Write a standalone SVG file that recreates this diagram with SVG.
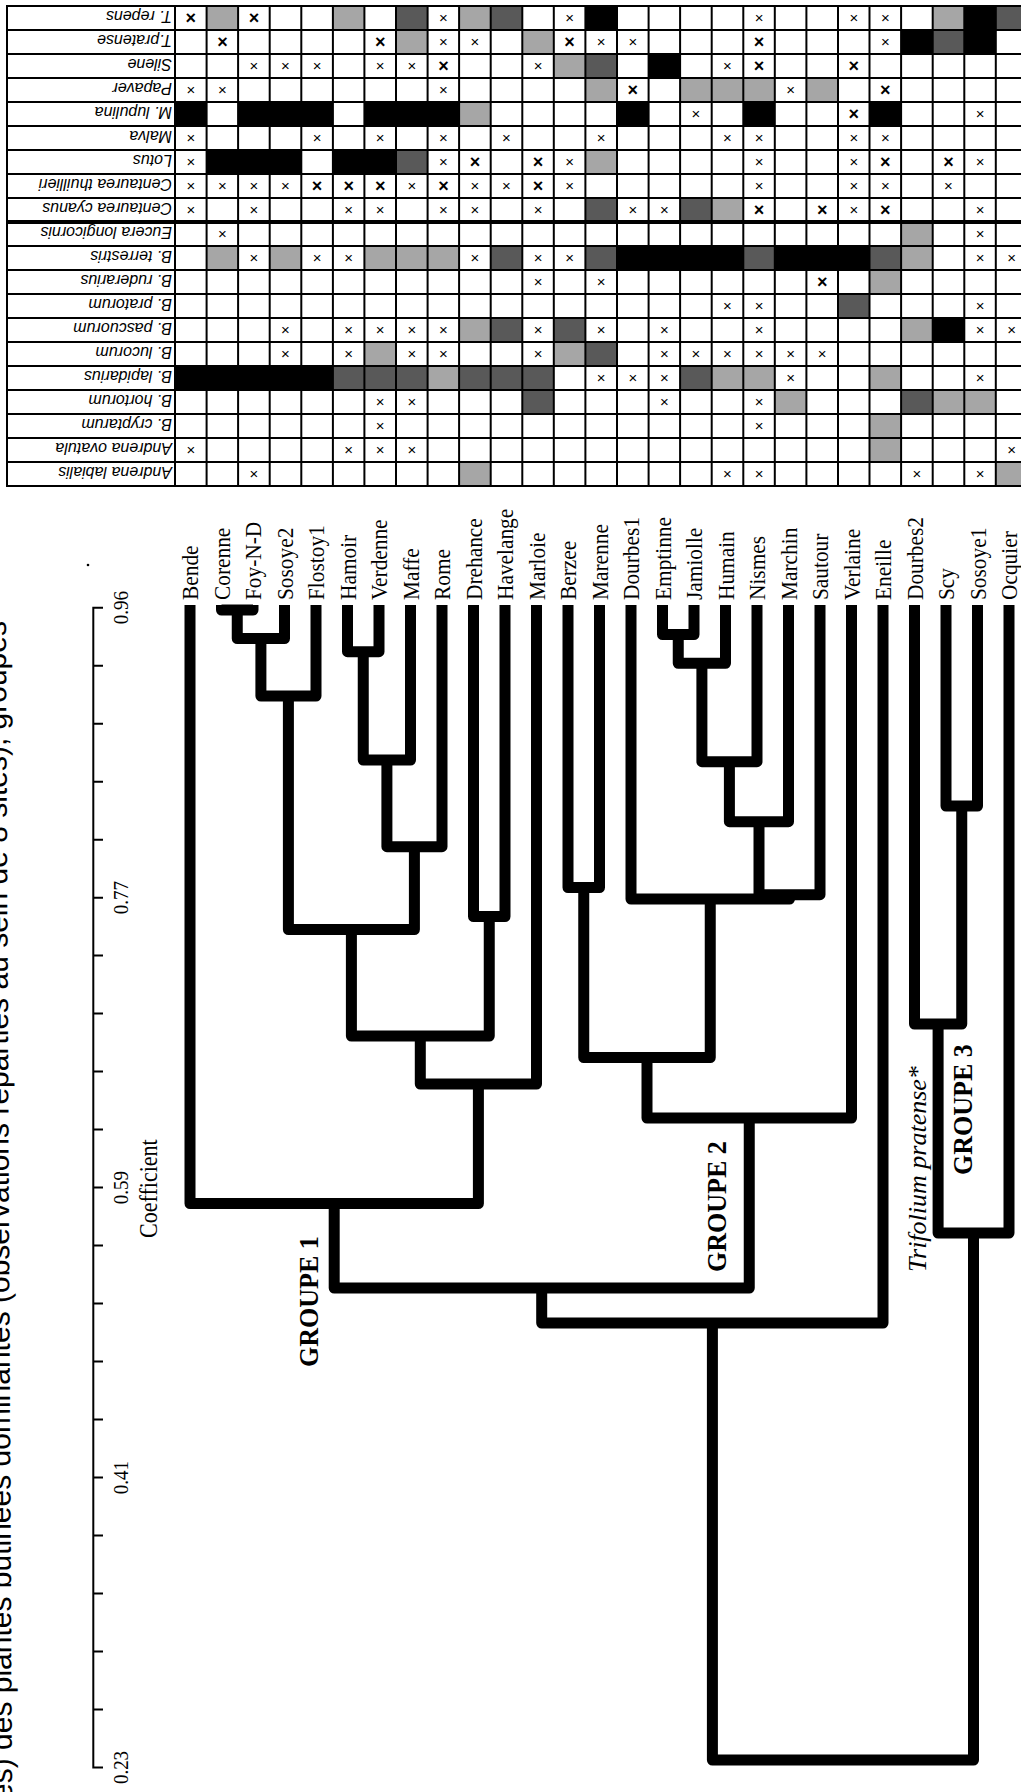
<svg xmlns="http://www.w3.org/2000/svg" width="1021" height="1792" viewBox="0 0 1021 1792">
<style>
.grid{stroke:#000;stroke-width:2;fill:none}
.sep{stroke:#000;stroke-width:4;fill:none}
.L{fill:#a6a6a6}.D{fill:#595959}.B{fill:#000}
.s{font:15px 'Liberation Sans',Arial,sans-serif;text-anchor:middle}
.b{font:bold 18px 'Liberation Sans',Arial,sans-serif;text-anchor:middle}
.lab{font:italic 16px 'Liberation Sans',Arial,sans-serif}
.leaf{font:24px 'Liberation Serif','Times New Roman',serif}
.tree{fill:none;stroke:#000;stroke-width:11;stroke-linejoin:round;stroke-linecap:butt}
.axis{stroke:#000;stroke-width:2;fill:none}
.tk{font:22px 'Liberation Serif','Times New Roman',serif;text-anchor:middle}
.coef{font:24.5px 'Liberation Serif','Times New Roman',serif}
.grp{font:bold 28px 'Liberation Serif','Times New Roman',serif}
.tri{font:italic 26px 'Liberation Serif','Times New Roman',serif}
.cap{font:30px 'Liberation Sans',Arial,sans-serif}
</style>
<rect width="1021" height="1792" fill="#fff"/>
<text class="cap" transform="translate(12,1800) rotate(-90.3)">es) des plantes butinées dominantes (observations réparties au sein de 8 sites), groupes</text>
<g id="table">
<g id="row-t-repens" transform="translate(0,6)">
<rect class="L" x="206.6" width="31.6" height="24"/><rect class="L" x="332.9" width="31.6" height="24"/><rect class="D" x="396" width="31.6" height="24"/><rect class="L" x="459.1" width="31.6" height="24"/><rect class="D" x="490.7" width="31.6" height="24"/><rect class="B" x="585.4" width="31.6" height="24"/><rect class="L" x="932.7" width="31.6" height="24"/><rect class="B" x="964.3" width="31.6" height="24"/><rect class="D" x="995.8" width="31.6" height="24"/>
<text class="b" x="190.8" y="18.3">×</text><text class="b" x="253.9" y="18.3">×</text><text class="s" x="443.4" y="17.3">×</text><text class="s" x="569.6" y="17.3">×</text><text class="s" x="759.1" y="17.3">×</text><text class="s" x="853.8" y="17.3">×</text><text class="s" x="885.3" y="17.3">×</text>
<text class="lab" transform="translate(172,12) rotate(180)" y="7.5">T. repens</text>
</g>
<g id="row-t-pratense" transform="translate(0,30)">
<rect class="L" x="396" width="31.6" height="24"/><rect class="L" x="522.3" width="31.6" height="24"/><rect class="B" x="901.1" width="31.6" height="24"/><rect class="D" x="932.7" width="31.6" height="24"/><rect class="B" x="964.3" width="31.6" height="24"/>
<text class="b" x="222.4" y="18.3">×</text><text class="b" x="380.2" y="18.3">×</text><text class="s" x="443.4" y="17.3">×</text><text class="s" x="474.9" y="17.3">×</text><text class="b" x="569.6" y="18.3">×</text><text class="s" x="601.2" y="17.3">×</text><text class="s" x="632.8" y="17.3">×</text><text class="b" x="759.1" y="18.3">×</text><text class="s" x="885.3" y="17.3">×</text>
<text class="lab" transform="translate(172,12) rotate(180)" y="7.5">T.pratense</text>
</g>
<g id="row-silene" transform="translate(0,54)">
<rect class="L" x="553.8" width="31.6" height="24"/><rect class="D" x="585.4" width="31.6" height="24"/><rect class="B" x="648.6" width="31.6" height="24"/>
<text class="s" x="253.9" y="17.3">×</text><text class="s" x="285.5" y="17.3">×</text><text class="s" x="317.1" y="17.3">×</text><text class="s" x="380.2" y="17.3">×</text><text class="s" x="411.8" y="17.3">×</text><text class="b" x="443.4" y="18.3">×</text><text class="s" x="538.1" y="17.3">×</text><text class="s" x="727.5" y="17.3">×</text><text class="b" x="759.1" y="18.3">×</text><text class="b" x="853.8" y="18.3">×</text>
<text class="lab" transform="translate(172,12) rotate(180)" y="7.5">Silene</text>
</g>
<g id="row-papaver" transform="translate(0,78)">
<rect class="L" x="585.4" width="31.6" height="24"/><rect class="L" x="680.1" width="94.8" height="24"/><rect class="L" x="806.4" width="31.6" height="24"/>
<text class="s" x="190.8" y="17.3">×</text><text class="s" x="222.4" y="17.3">×</text><text class="s" x="443.4" y="17.3">×</text><text class="b" x="632.8" y="18.3">×</text><text class="s" x="790.6" y="17.3">×</text><text class="b" x="885.3" y="18.3">×</text>
<text class="lab" transform="translate(172,12) rotate(180)" y="7.5">Papaver</text>
</g>
<g id="row-m-lupulina" transform="translate(0,102)">
<rect class="B" x="175" width="31.6" height="24"/><rect class="B" x="238.1" width="94.8" height="24"/><rect class="B" x="364.4" width="94.8" height="24"/><rect class="L" x="459.1" width="31.6" height="24"/><rect class="B" x="617" width="31.6" height="24"/><rect class="B" x="743.3" width="31.6" height="24"/><rect class="B" x="869.5" width="31.6" height="24"/>
<text class="s" x="695.9" y="17.3">×</text><text class="b" x="853.8" y="18.3">×</text><text class="s" x="980.1" y="17.3">×</text>
<text class="lab" transform="translate(172,12) rotate(180)" y="7.5">M. lupulina</text>
</g>
<g id="row-malva" transform="translate(0,126)">
<text class="s" x="190.8" y="17.3">×</text><text class="s" x="317.1" y="17.3">×</text><text class="s" x="380.2" y="17.3">×</text><text class="s" x="443.4" y="17.3">×</text><text class="s" x="506.5" y="17.3">×</text><text class="s" x="601.2" y="17.3">×</text><text class="s" x="727.5" y="17.3">×</text><text class="s" x="759.1" y="17.3">×</text><text class="s" x="853.8" y="17.3">×</text><text class="s" x="885.3" y="17.3">×</text>
<text class="lab" transform="translate(172,12) rotate(180)" y="7.5">Malva</text>
</g>
<g id="row-lotus" transform="translate(0,150)">
<rect class="B" x="206.6" width="94.8" height="24"/><rect class="B" x="332.9" width="63.2" height="24"/><rect class="D" x="396" width="31.6" height="24"/><rect class="L" x="585.4" width="31.6" height="24"/>
<text class="s" x="190.8" y="17.3">×</text><text class="s" x="443.4" y="17.3">×</text><text class="b" x="474.9" y="18.3">×</text><text class="b" x="538.1" y="18.3">×</text><text class="s" x="569.6" y="17.3">×</text><text class="s" x="759.1" y="17.3">×</text><text class="s" x="853.8" y="17.3">×</text><text class="b" x="885.3" y="18.3">×</text><text class="b" x="948.5" y="18.3">×</text><text class="s" x="980.1" y="17.3">×</text>
<text class="lab" transform="translate(172,12) rotate(180)" y="7.5">Lotus</text>
</g>
<g id="row-centaurea-thuillieri" transform="translate(0,174)">
<text class="s" x="190.8" y="17.3">×</text><text class="s" x="222.4" y="17.3">×</text><text class="s" x="253.9" y="17.3">×</text><text class="s" x="285.5" y="17.3">×</text><text class="b" x="317.1" y="18.3">×</text><text class="b" x="348.7" y="18.3">×</text><text class="b" x="380.2" y="18.3">×</text><text class="s" x="411.8" y="17.3">×</text><text class="b" x="443.4" y="18.3">×</text><text class="s" x="474.9" y="17.3">×</text><text class="s" x="506.5" y="17.3">×</text><text class="b" x="538.1" y="18.3">×</text><text class="s" x="569.6" y="17.3">×</text><text class="s" x="759.1" y="17.3">×</text><text class="s" x="853.8" y="17.3">×</text><text class="s" x="885.3" y="17.3">×</text><text class="s" x="948.5" y="17.3">×</text>
<text class="lab" transform="translate(172,12) rotate(180)" y="7.5">Centaurea thuillieri</text>
</g>
<g id="row-centaurea-cyanus" transform="translate(0,198)">
<rect class="D" x="585.4" width="31.6" height="24"/><rect class="D" x="680.1" width="31.6" height="24"/><rect class="L" x="711.7" width="31.6" height="24"/>
<text class="s" x="190.8" y="17.3">×</text><text class="s" x="253.9" y="17.3">×</text><text class="s" x="348.7" y="17.3">×</text><text class="s" x="380.2" y="17.3">×</text><text class="s" x="443.4" y="17.3">×</text><text class="s" x="474.9" y="17.3">×</text><text class="s" x="538.1" y="17.3">×</text><text class="s" x="632.8" y="17.3">×</text><text class="s" x="664.4" y="17.3">×</text><text class="b" x="759.1" y="18.3">×</text><text class="b" x="822.2" y="18.3">×</text><text class="s" x="853.8" y="17.3">×</text><text class="b" x="885.3" y="18.3">×</text><text class="s" x="980.1" y="17.3">×</text>
<text class="lab" transform="translate(172,12) rotate(180)" y="7.5">Centaurea cyanus</text>
</g>
<g id="row-eucera" transform="translate(0,222)">
<rect class="L" x="901.1" width="31.6" height="24"/>
<text class="s" x="222.4" y="17.3">×</text><text class="s" x="980.1" y="17.3">×</text>
<text class="lab" transform="translate(172,12) rotate(180)" y="7.5">Eucera longicornis</text>
</g>
<g id="row-b-terrestris" transform="translate(0,246)">
<rect class="L" x="206.6" width="31.6" height="24"/><rect class="L" x="269.7" width="31.6" height="24"/><rect class="L" x="364.4" width="94.8" height="24"/><rect class="D" x="490.7" width="31.6" height="24"/><rect class="D" x="585.4" width="31.6" height="24"/><rect class="B" x="617" width="126.4" height="24"/><rect class="D" x="743.3" width="31.6" height="24"/><rect class="B" x="774.8" width="94.8" height="24"/><rect class="D" x="869.5" width="31.6" height="24"/><rect class="L" x="901.1" width="31.6" height="24"/>
<text class="s" x="253.9" y="17.3">×</text><text class="s" x="317.1" y="17.3">×</text><text class="s" x="348.7" y="17.3">×</text><text class="s" x="474.9" y="17.3">×</text><text class="s" x="538.1" y="17.3">×</text><text class="s" x="569.6" y="17.3">×</text><text class="s" x="980.1" y="17.3">×</text><text class="s" x="1011.6" y="17.3">×</text>
<text class="lab" transform="translate(172,12) rotate(180)" y="7.5">B. terrestris</text>
</g>
<g id="row-b-ruderarius" transform="translate(0,270)">
<rect class="L" x="869.5" width="31.6" height="24"/>
<text class="s" x="538.1" y="17.3">×</text><text class="s" x="601.2" y="17.3">×</text><text class="b" x="822.2" y="18.3">×</text>
<text class="lab" transform="translate(172,12) rotate(180)" y="7.5">B. ruderarius</text>
</g>
<g id="row-b-pratorum" transform="translate(0,294)">
<rect class="D" x="838" width="31.6" height="24"/>
<text class="s" x="727.5" y="17.3">×</text><text class="s" x="759.1" y="17.3">×</text><text class="s" x="980.1" y="17.3">×</text>
<text class="lab" transform="translate(172,12) rotate(180)" y="7.5">B. pratorum</text>
</g>
<g id="row-b-pascuorum" transform="translate(0,318)">
<rect class="L" x="459.1" width="31.6" height="24"/><rect class="D" x="490.7" width="31.6" height="24"/><rect class="D" x="553.8" width="31.6" height="24"/><rect class="L" x="901.1" width="31.6" height="24"/><rect class="B" x="932.7" width="31.6" height="24"/>
<text class="s" x="285.5" y="17.3">×</text><text class="s" x="348.7" y="17.3">×</text><text class="s" x="380.2" y="17.3">×</text><text class="s" x="411.8" y="17.3">×</text><text class="s" x="443.4" y="17.3">×</text><text class="s" x="538.1" y="17.3">×</text><text class="s" x="601.2" y="17.3">×</text><text class="s" x="664.4" y="17.3">×</text><text class="s" x="759.1" y="17.3">×</text><text class="s" x="980.1" y="17.3">×</text><text class="s" x="1011.6" y="17.3">×</text>
<text class="lab" transform="translate(172,12) rotate(180)" y="7.5">B. pascuorum</text>
</g>
<g id="row-b-lucorum" transform="translate(0,342)">
<rect class="L" x="364.4" width="31.6" height="24"/><rect class="L" x="553.8" width="31.6" height="24"/><rect class="D" x="585.4" width="31.6" height="24"/>
<text class="s" x="285.5" y="17.3">×</text><text class="s" x="348.7" y="17.3">×</text><text class="s" x="411.8" y="17.3">×</text><text class="s" x="443.4" y="17.3">×</text><text class="s" x="538.1" y="17.3">×</text><text class="s" x="664.4" y="17.3">×</text><text class="s" x="695.9" y="17.3">×</text><text class="s" x="727.5" y="17.3">×</text><text class="s" x="759.1" y="17.3">×</text><text class="s" x="790.6" y="17.3">×</text><text class="s" x="822.2" y="17.3">×</text>
<text class="lab" transform="translate(172,12) rotate(180)" y="7.5">B. lucorum</text>
</g>
<g id="row-b-lapidarius" transform="translate(0,366)">
<rect class="B" x="175" width="158" height="24"/><rect class="D" x="332.9" width="94.8" height="24"/><rect class="L" x="427.6" width="31.6" height="24"/><rect class="D" x="459.1" width="94.8" height="24"/><rect class="D" x="680.1" width="31.6" height="24"/><rect class="L" x="711.7" width="63.2" height="24"/><rect class="L" x="869.5" width="31.6" height="24"/>
<text class="s" x="601.2" y="17.3">×</text><text class="s" x="632.8" y="17.3">×</text><text class="s" x="664.4" y="17.3">×</text><text class="s" x="790.6" y="17.3">×</text><text class="s" x="980.1" y="17.3">×</text>
<text class="lab" transform="translate(172,12) rotate(180)" y="7.5">B. lapidarius</text>
</g>
<g id="row-b-hortorum" transform="translate(0,390)">
<rect class="D" x="522.3" width="31.6" height="24"/><rect class="L" x="774.8" width="31.6" height="24"/><rect class="D" x="901.1" width="31.6" height="24"/><rect class="L" x="932.7" width="63.2" height="24"/>
<text class="s" x="380.2" y="17.3">×</text><text class="s" x="411.8" y="17.3">×</text><text class="s" x="664.4" y="17.3">×</text><text class="s" x="759.1" y="17.3">×</text>
<text class="lab" transform="translate(172,12) rotate(180)" y="7.5">B. hortorum</text>
</g>
<g id="row-b-cryptarum" transform="translate(0,414)">
<rect class="L" x="869.5" width="31.6" height="24"/>
<text class="s" x="380.2" y="17.3">×</text><text class="s" x="759.1" y="17.3">×</text>
<text class="lab" transform="translate(172,12) rotate(180)" y="7.5">B. cryptarum</text>
</g>
<g id="row-andrena-ovatula" transform="translate(0,438)">
<rect class="L" x="869.5" width="31.6" height="24"/>
<text class="s" x="190.8" y="17.3">×</text><text class="s" x="348.7" y="17.3">×</text><text class="s" x="380.2" y="17.3">×</text><text class="s" x="411.8" y="17.3">×</text><text class="s" x="1011.6" y="17.3">×</text>
<text class="lab" transform="translate(172,12) rotate(180)" y="7.5">Andrena ovatula</text>
</g>
<g id="row-andrena-labialis" transform="translate(0,462)">
<rect class="L" x="459.1" width="31.6" height="24"/><rect class="L" x="995.8" width="31.6" height="24"/>
<text class="s" x="253.9" y="17.3">×</text><text class="s" x="727.5" y="17.3">×</text><text class="s" x="759.1" y="17.3">×</text><text class="s" x="916.9" y="17.3">×</text><text class="s" x="980.1" y="17.3">×</text>
<text class="lab" transform="translate(172,12) rotate(180)" y="7.5">Andrena labialis</text>
</g>
<path class="grid" d="M7 5V487M175 6V486M206.6 6V486M238.1 6V486M269.7 6V486M301.3 6V486M332.9 6V486M364.4 6V486M396 6V486M427.6 6V486M459.1 6V486M490.7 6V486M522.3 6V486M553.8 6V486M585.4 6V486M617 6V486M648.6 6V486M680.1 6V486M711.7 6V486M743.3 6V486M774.8 6V486M806.4 6V486M838 6V486M869.5 6V486M901.1 6V486M932.7 6V486M964.3 6V486M995.8 6V486"/>
<path class="grid" d="M6 6H1021M6 30H1021M6 54H1021M6 78H1021M6 102H1021M6 126H1021M6 150H1021M6 174H1021M6 198H1021M6 246H1021M6 270H1021M6 294H1021M6 318H1021M6 342H1021M6 366H1021M6 390H1021M6 414H1021M6 438H1021M6 462H1021M6 486H1021"/>
<path class="sep" d="M6 222H1021"/>
</g>
<g id="axis">
<circle cx="88" cy="565" r="1.3" fill="#000"/>
<path class="axis" d="M93.3 607.7V1767.5M92.3 607.7H103M93.3 665.7H103M93.3 723.7H103M93.3 781.7H103M93.3 839.7H103M93.3 897.7H103M93.3 955.6H103M93.3 1013.6H103M93.3 1071.6H103M93.3 1129.6H103M93.3 1187.6H103M93.3 1245.6H103M93.3 1303.6H103M93.3 1361.6H103M93.3 1419.6H103M93.3 1477.6H103M93.3 1535.5H103M93.3 1593.5H103M93.3 1651.5H103M93.3 1709.5H103M92.3 1767.5H103"/>
<text class="tk" transform="translate(128,607.7) rotate(-90) scale(0.86,1)">0.96</text>
<text class="tk" transform="translate(128,897.7) rotate(-90) scale(0.86,1)">0.77</text>
<text class="tk" transform="translate(128,1187.6) rotate(-90) scale(0.86,1)">0.59</text>
<text class="tk" transform="translate(128,1477.6) rotate(-90) scale(0.86,1)">0.41</text>
<text class="tk" transform="translate(128,1767.5) rotate(-90) scale(0.86,1)">0.23</text>
<text class="coef" transform="translate(156.5,1238) rotate(-90) scale(0.9,1)">Coefficient</text>
</g>
<g id="connectors">
<path class="tree" d="M221.5 605V610H253V605"/>
<path class="tree" d="M237.25 610V638.5H284.5V605"/>
<path class="tree" d="M260.9 638.5V696H316V605"/>
<path class="tree" d="M347.5 605V651.7H379V605"/>
<path class="tree" d="M363.25 651.7V760H410.5V605"/>
<path class="tree" d="M386.9 760V846.7H442V605"/>
<path class="tree" d="M288.4 696V929.5H414.4V846.7"/>
<path class="tree" d="M473.5 605V916.5H505V605"/>
<path class="tree" d="M351.4 929.5V1036H489.25V916.5"/>
<path class="tree" d="M420.3 1036V1084H536.5V605"/>
<path class="tree" d="M190 605V1203.5H478.4V1084"/>
<path class="tree" d="M568 605V887.5H599.5V605"/>
<path class="tree" d="M662.5 605V634.5H694V605"/>
<path class="tree" d="M678.25 634.5V663.3H725.5V605"/>
<path class="tree" d="M701.9 663.3V761.7H757V605"/>
<path class="tree" d="M729.4 761.7V821.7H788.5V605"/>
<path class="tree" d="M759 821.7V894.7H820V605"/>
<path class="tree" d="M631 605V899H789.5V894.7"/>
<path class="tree" d="M583.75 887.5V1057.5H710.25V899"/>
<path class="tree" d="M647 1057.5V1118H851.5V605"/>
<path class="tree" d="M334.2 1203.5V1288H749.25V1118"/>
<path class="tree" d="M541.7 1288V1323H883V605"/>
<path class="tree" d="M946 605V806H977.5V605"/>
<path class="tree" d="M914.5 605V1024H961.75V806"/>
<path class="tree" d="M938.1 1024V1233H1009V605"/>
<path class="tree" d="M712.4 1323V1760H973.5V1233"/>
</g>
<g id="leaves">
<g id="leaf-bende"><text class="leaf" transform="translate(198.3,600) rotate(-90) scale(0.89,1)">Bende</text></g>
<g id="leaf-corenne"><text class="leaf" transform="translate(229.8,600) rotate(-90) scale(0.89,1)">Corenne</text></g>
<g id="leaf-foy-n-d"><text class="leaf" transform="translate(261.3,600) rotate(-90) scale(0.89,1)">Foy-N-D</text></g>
<g id="leaf-sosoye2"><text class="leaf" transform="translate(292.8,600) rotate(-90) scale(0.89,1)">Sosoye2</text></g>
<g id="leaf-flostoy1"><text class="leaf" transform="translate(324.3,600) rotate(-90) scale(0.89,1)">Flostoy1</text></g>
<g id="leaf-hamoir"><text class="leaf" transform="translate(355.8,600) rotate(-90) scale(0.89,1)">Hamoir</text></g>
<g id="leaf-verdenne"><text class="leaf" transform="translate(387.3,600) rotate(-90) scale(0.89,1)">Verdenne</text></g>
<g id="leaf-maffe"><text class="leaf" transform="translate(418.8,600) rotate(-90) scale(0.89,1)">Maffe</text></g>
<g id="leaf-rome"><text class="leaf" transform="translate(450.3,600) rotate(-90) scale(0.89,1)">Rome</text></g>
<g id="leaf-drehance"><text class="leaf" transform="translate(481.8,600) rotate(-90) scale(0.89,1)">Drehance</text></g>
<g id="leaf-havelange"><text class="leaf" transform="translate(513.3,600) rotate(-90) scale(0.89,1)">Havelange</text></g>
<g id="leaf-marloie"><text class="leaf" transform="translate(544.8,600) rotate(-90) scale(0.89,1)">Marloie</text></g>
<g id="leaf-berzee"><text class="leaf" transform="translate(576.3,600) rotate(-90) scale(0.89,1)">Berzee</text></g>
<g id="leaf-marenne"><text class="leaf" transform="translate(607.8,600) rotate(-90) scale(0.89,1)">Marenne</text></g>
<g id="leaf-dourbes1"><text class="leaf" transform="translate(639.3,600) rotate(-90) scale(0.89,1)">Dourbes1</text></g>
<g id="leaf-emptinne"><text class="leaf" transform="translate(670.8,600) rotate(-90) scale(0.89,1)">Emptinne</text></g>
<g id="leaf-jamiolle"><text class="leaf" transform="translate(702.3,600) rotate(-90) scale(0.89,1)">Jamiolle</text></g>
<g id="leaf-humain"><text class="leaf" transform="translate(733.8,600) rotate(-90) scale(0.89,1)">Humain</text></g>
<g id="leaf-nismes"><text class="leaf" transform="translate(765.3,600) rotate(-90) scale(0.89,1)">Nismes</text></g>
<g id="leaf-marchin"><text class="leaf" transform="translate(796.8,600) rotate(-90) scale(0.89,1)">Marchin</text></g>
<g id="leaf-sautour"><text class="leaf" transform="translate(828.3,600) rotate(-90) scale(0.89,1)">Sautour</text></g>
<g id="leaf-verlaine"><text class="leaf" transform="translate(859.8,600) rotate(-90) scale(0.89,1)">Verlaine</text></g>
<g id="leaf-eneille"><text class="leaf" transform="translate(891.3,600) rotate(-90) scale(0.89,1)">Eneille</text></g>
<g id="leaf-dourbes2"><text class="leaf" transform="translate(922.8,600) rotate(-90) scale(0.89,1)">Dourbes2</text></g>
<g id="leaf-scy"><text class="leaf" transform="translate(954.3,600) rotate(-90) scale(0.89,1)">Scy</text></g>
<g id="leaf-sosoye1"><text class="leaf" transform="translate(985.8,600) rotate(-90) scale(0.89,1)">Sosoye1</text></g>
<g id="leaf-ocquier"><text class="leaf" transform="translate(1017.3,600) rotate(-90) scale(0.89,1)">Ocquier</text></g>
</g>
<g id="groups">
<text class="grp" transform="translate(318,1367) rotate(-90) scale(0.93,1)">GROUPE 1</text>
<text class="grp" transform="translate(726,1272) rotate(-90) scale(0.93,1)">GROUPE 2</text>
<text class="grp" transform="translate(972,1175) rotate(-90) scale(0.93,1)">GROUPE 3</text>
<text class="tri" transform="translate(926,1272) rotate(-90)">Trifolium pratense*</text>
</g>
</svg>
